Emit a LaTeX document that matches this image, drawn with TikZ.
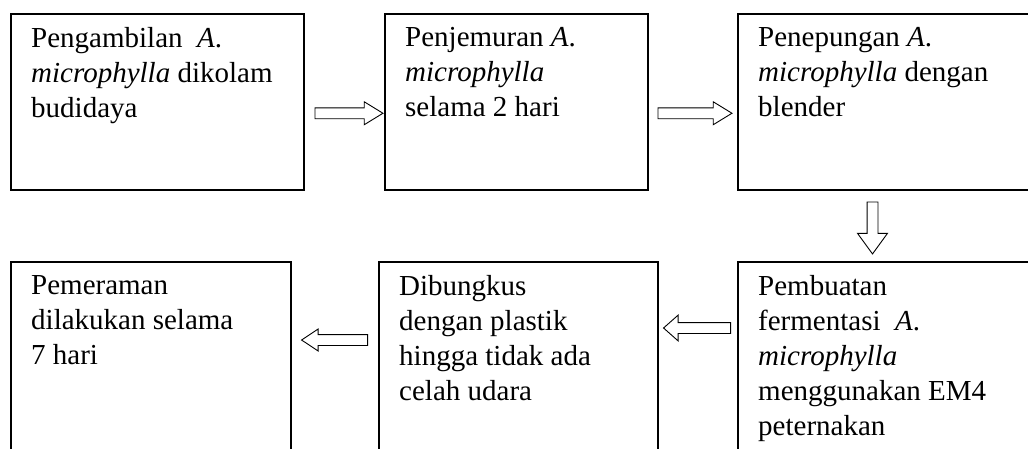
\documentclass[tikz,border=0pt]{standalone}
\usepackage{fontspec}
\setmainfont{Liberation Serif}
\usetikzlibrary{shapes.arrows,positioning}

\begin{document}
\begin{tikzpicture}[x=1pt,y=-1pt,
  stepbox/.style={draw=black,line width=1.5pt,anchor=north west,inner sep=0pt},
  steptext/.style={anchor=north west,align=left,inner sep=0pt,font=\fontsize{29pt}{35pt}\selectfont,execute at begin node=\strut},
  hollowarrow/.style={single arrow,draw=black,line width=.9pt,fill=white,inner sep=5pt,anchor=tail}]
\useasboundingbox (0,0) rectangle (1028,448);
\clip (0,0) rectangle (1028,448);
% boxes
\node[stepbox,minimum width=293pt,minimum height=176pt] (b1) at (10,13) {};
\node[stepbox,minimum width=263pt,minimum height=176pt] (b2) at (384,13) {};
\node[stepbox,minimum width=310pt,minimum height=176pt] (b3) at (737,13) {};
\node[stepbox,minimum width=280pt,minimum height=200pt] (b4) at (10,261) {};
\node[stepbox,minimum width=279pt,minimum height=200pt] (b5) at (378,261) {};
\node[stepbox,minimum width=310pt,minimum height=200pt] (b6) at (737,261) {};
% texts
\node[steptext] (t1) at ([xshift=21pt,yshift=-14.5pt]b1.north west) {Pengambilan~ \textit{A}.\\\textit{microphylla} dikolam\\budidaya};
\node[steptext] (t2) at ([xshift=21pt,yshift=-14.5pt]b2.north west) {Penjemuran \textit{A}.\\\textit{microphylla}\\selama 2 hari};
\node[steptext] (t3) at ([xshift=21pt,yshift=-14.5pt]b3.north west) {Penepungan \textit{A}.\\\textit{microphylla} dengan\\blender};
\node[steptext] (t4) at ([xshift=21pt,yshift=-14.5pt]b4.north west) {Pemeraman\\dilakukan selama\\7 hari};
\node[steptext] (t5) at ([xshift=21pt,yshift=-14.5pt]b5.north west) {Dibungkus\\dengan plastik\\hingga tidak ada\\celah udara};
\node[steptext] (t6) at ([xshift=21pt,yshift=-14.5pt]b6.north west) {Pembuatan\\fermentasi~ \textit{A}.\\\textit{microphylla}\\menggunakan EM4\\peternakan};
% arrows
\node[hollowarrow,minimum height=68pt,minimum width=22pt,single arrow head extend=6pt,single arrow tip angle=63] (a12) at ([xshift=10pt,yshift=-11.5pt]b1.east) {};
\node[hollowarrow,minimum height=74pt,minimum width=22pt,single arrow head extend=6pt,single arrow tip angle=63] (a23) at ([xshift=9pt,yshift=-11.5pt]b2.east) {};
\node[hollowarrow,rotate=-90,minimum height=52pt,minimum width=29pt,single arrow head extend=9.5pt,single arrow tip angle=72] (a36) at ([xshift=135.5pt,yshift=-11pt]b3.south west) {};
\node[hollowarrow,rotate=180,minimum height=67pt,minimum width=25pt,single arrow head extend=7.5pt,single arrow tip angle=83] (a65) at ([xshift=-6pt,yshift=-67pt]b6.north west) {};
\node[hollowarrow,rotate=180,minimum height=66pt,minimum width=21pt,single arrow head extend=5.5pt,single arrow tip angle=67] (a54) at ([xshift=-10pt,yshift=-79pt]b5.north west) {};
\end{tikzpicture}
\end{document}
